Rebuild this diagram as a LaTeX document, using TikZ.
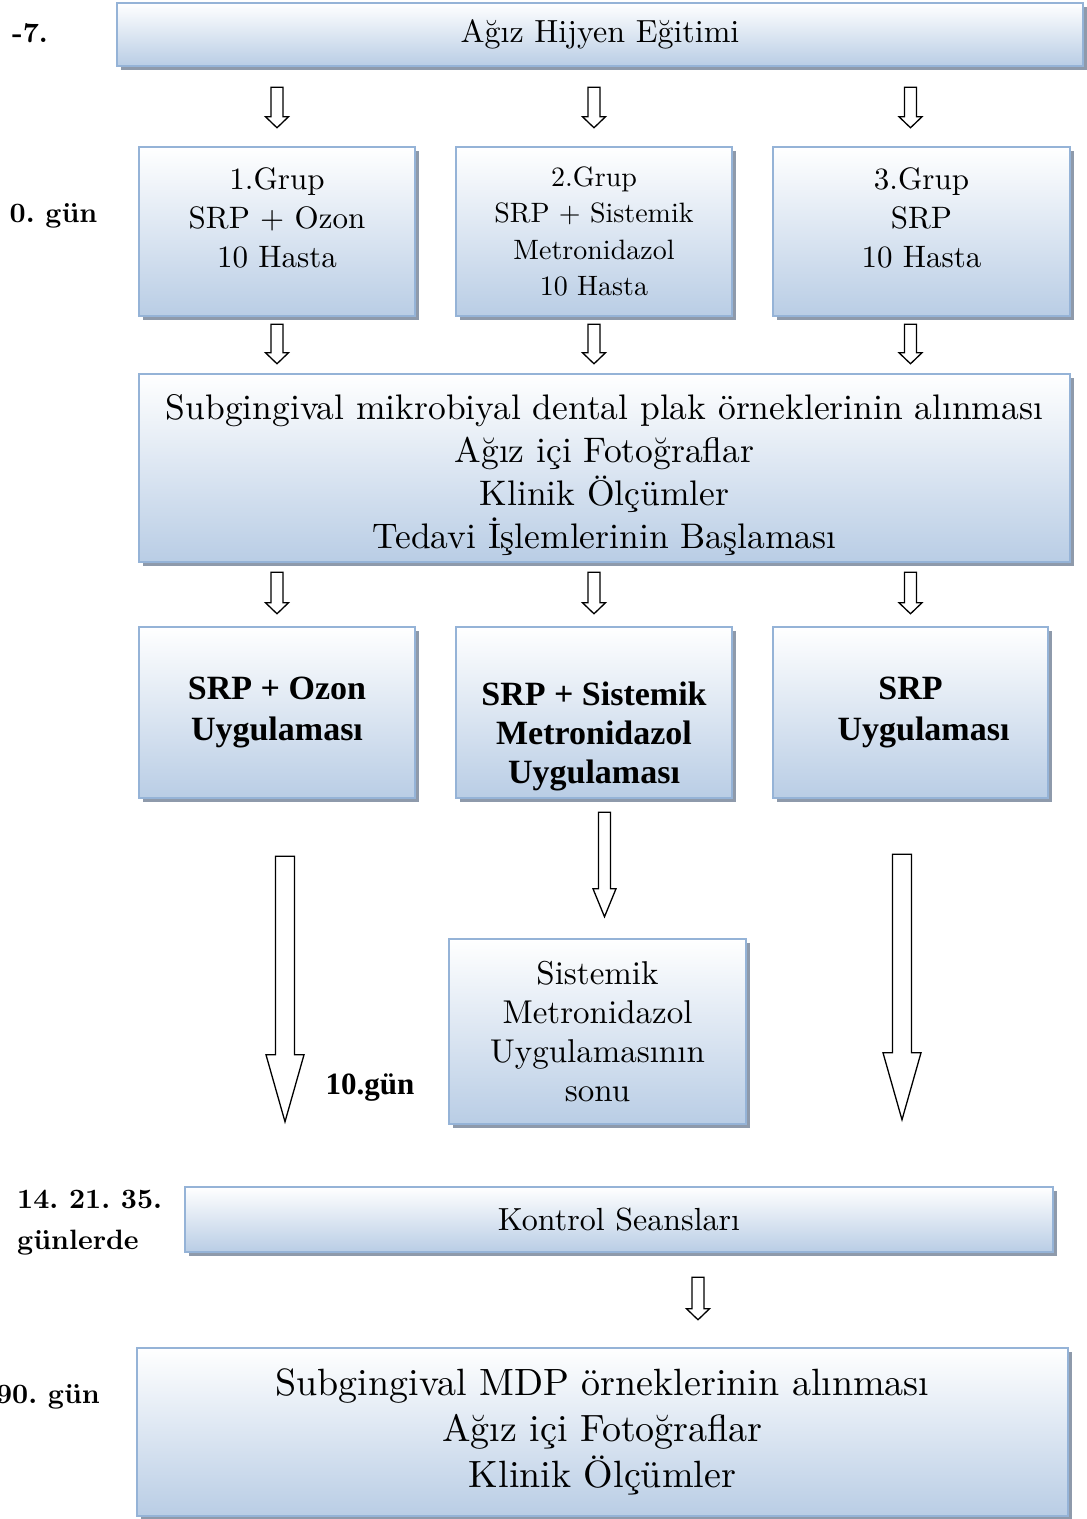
\documentclass[tikz,border=0pt]{standalone}
\usepackage{fontspec}
\setmainfont{lmroman10-regular.otf}[BoldFont=lmroman10-bold.otf,ItalicFont=lmroman10-italic.otf]
\newfontfamily\tnrfont{Liberation Serif}
\usepackage{tikz}
\usetikzlibrary{positioning,calc,shadows}
\definecolor{boxline}{HTML}{95B3D7}
\definecolor{boxfill}{HTML}{B9CDE5}
\definecolor{boxshade}{HTML}{8E9AAB}
\newcommand{\sz}[2]{\fontsize{#1}{#2}\selectfont}
% hollow block arrow: start, tip, shaft width, head width, head length
\newcommand{\blkarrow}[5]{%
  \draw[blk] let \p1=#1, \p2=#2 in
    (\x1-#3/2,\y1) -- (\x1+#3/2,\y1) -- (\x1+#3/2,\y2+#5) -- (\x1+#4/2,\y2+#5)
    -- (\x1,\y2) -- (\x1-#4/2,\y2+#5) -- (\x1-#3/2,\y2+#5) -- cycle;}
\frenchspacing

\begin{document}
\begin{tikzpicture}[x=1pt,y=-1pt,
  box/.style={draw=boxline,line width=2.5pt,top color=white,bottom color=boxfill,
    drop shadow={shadow xshift=4pt,shadow yshift=-4pt,fill=boxshade,opacity=1},
    align=center,inner sep=0pt},
  day/.style={font=\sz{28}{41}\bfseries,align=left,inner sep=0pt},
  blk/.style={draw=black,fill=white,line width=1.3pt,line join=miter}]
  \useasboundingbox (0,0) rectangle (1087,1519);
  \node[box,minimum width=966pt,minimum height=63pt,font=\sz{32}{39}] (hyg) at (600,34.5) {Ağız Hijyen Eğitimi};
  \node[box,minimum width=276pt,minimum height=169pt,font=\sz{31}{39}] (g1) at (277,231.5) {1.Grup\\SRP + Ozon\\10 Hasta\\[-11pt]\mbox{}};
  \node[box,minimum width=276pt,minimum height=169pt,font=\sz{28}{36.5}] (g2) at (594,231.5) {2.Grup\\SRP + Sistemik\\Metronidazol\\10 Hasta};
  \node[box,minimum width=297pt,minimum height=169pt,font=\sz{31}{39}] (g3) at (921.5,231.5) {3.Grup\\SRP\\10 Hasta\\[-11pt]\mbox{}};
  \node[box,minimum width=931pt,minimum height=188pt,font=\sz{35.5}{43}] (plak) at (604.5,468) {\mbox{}\\[-4.5pt]Subgingival mikrobiyal dental plak örneklerinin alınması\\Ağız içi Fotoğraflar\\Klinik Ölçümler\\Tedavi İşlemlerinin Başlaması};
  \node[box,minimum width=276pt,minimum height=171pt,font=\tnrfont\bfseries\sz{34}{41}] (u1) at (277,712.5) {SRP + Ozon\\Uygulaması};
  \node[box,minimum width=276pt,minimum height=171pt,font=\tnrfont\bfseries\sz{34}{39}] (u2) at (594,712.5) {\mbox{}\\[33pt]SRP + Sistemik\\Metronidazol\\Uygulaması};
  \node[box,minimum width=275pt,minimum height=171pt,font=\tnrfont\bfseries\sz{34}{41}] (u3) at (910.5,712.5) {SRP\\\hspace*{26pt}Uygulaması};
  \node[box,minimum width=297pt,minimum height=185pt,font=\sz{33}{39}] (son) at (597.5,1031.5) {Sistemik\\Metronidazol\\Uygulamasının\\sonu};
  \node[box,minimum width=868pt,minimum height=65pt,font=\sz{32}{39}] (kon) at (619,1219.5) {Kontrol Seansları};
  \node[box,minimum width=931pt,minimum height=168pt,font=\sz{38}{46}] (mdp) at (602.5,1432) {Subgingival MDP örneklerinin alınması\\Ağız içi Fotoğraflar\\Klinik Ölçümler};
  % day labels
  \node[day] (d7) at (30,33) {-7.};
  \node[day] (d0) at (53.5,216) {0. gün};
  \node[day,font=\tnrfont\bfseries\sz{31}{39}] (d10) at (370,1088) {10.gün};
  \node[day,anchor=west] (d14) at (17,1222.5) {14. 21. 35.\\günlerde};
  \node[day,anchor=east] (d90) at (100,1397) {90. gün};
  % arrows
  \foreach \g in {g1,g2,u3} {
    \blkarrow{($(hyg.south -| \g)+(0,20)$)}{($(g1.north -| \g)+(0,-18)$)}{12pt}{23pt}{11pt}
    \blkarrow{($(g1.south -| \g)+(0,7)$)}{($(plak.north -| \g)+(0,-9)$)}{12pt}{23pt}{11pt}
    \blkarrow{($(plak.south -| \g)+(0,9)$)}{($(u1.north -| \g)+(0,-12)$)}{12pt}{23pt}{11pt}
  }
  \blkarrow{($(u1.south)+(8,57)$)}{($(kon.north -| u1)+(8,-64)$)}{19pt}{38pt}{67pt}
  \blkarrow{($(u2.south)+(10.5,13)$)}{($(son.north -| u2)+(10.5,-21)$)}{12pt}{23pt}{28pt}
  \blkarrow{($(u3.south)+(-8.5,55)$)}{($(kon.north -| u3)+(-8.5,-66)$)}{19pt}{38pt}{67pt}
  \blkarrow{($(kon.south)+(79,24)$)}{($(mdp.north -| kon)+(79,-27)$)}{12pt}{23pt}{11pt}
\end{tikzpicture}
\end{document}
